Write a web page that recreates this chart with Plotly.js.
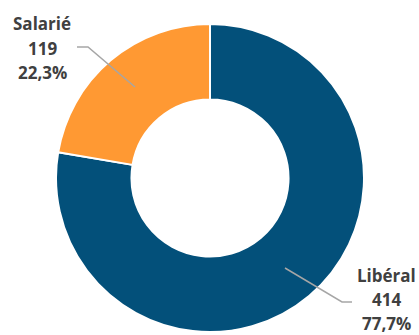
<!DOCTYPE html>
<html><head><meta charset="utf-8">
<script src="https://cdn.plot.ly/plotly-3.0.1.min.js"></script>
<style>html,body{margin:0;padding:0;background:#fff}#c{width:419px;height:335px}</style>
</head><body><div id="c"></div>
<script>
const categories = ["Libéral", "Salarié"];
const values = [414, 119];
const colors = ["#03507A", "#FF9933"];

const total = values.reduce((a,b)=>a+b,0);
const pct = values.map(v => (v/total*100).toFixed(1).replace(".", ","));
const W = 419, H = 335;
const px = x => x / W, py = y => 1 - y / H;

const labelPos = [[386, 299], [42, 48]];
const lineGap = 24;
const leaders = [
  [[285,268],[342,302],[352,302]],
  [[77,47],[88,47],[135,87]]
];

const annotations = [];
categories.forEach((c,i) => {
  const lines = [c, String(values[i]), pct[i] + "%"];
  lines.forEach((t,k) => annotations.push({
    x: px(labelPos[i][0]), y: py(labelPos[i][1] + (k-1)*lineGap), xref: "paper", yref: "paper",
    text: "<b>" + t + "</b>", borderpad: 0,
    showarrow: false, xanchor: "center", yanchor: "middle", align: "center",
    font: {family: "Open Sans, sans-serif", size: 17, color: "#404040"}
  }));
});
const shapes = leaders.map(pts => ({
  type: "path", xref: "paper", yref: "paper",
  path: pts.map((p,k) => (k ? "L" : "M") + px(p[0]) + "," + py(p[1])).join(" "),
  line: {color: "#A6A6A6", width: 1.5}
}));

Plotly.newPlot("c", [{
  type: "pie", labels: categories, values: values, hole: 0.51,
  sort: false, direction: "clockwise", rotation: 0,
  marker: {colors: colors, line: {color: "#ffffff", width: 2}},
  textinfo: "none", hoverinfo: "none",
  domain: {x: [56/W, 364/W], y: [1 - 332/H, 1 - 24/H]}
}], {
  width: W, height: H, margin: {l:0, r:0, t:0, b:0},
  showlegend: false, paper_bgcolor: "#fff",
  annotations: annotations, shapes: shapes
}, {displayModeBar: false, staticPlot: true});
</script></body></html>
